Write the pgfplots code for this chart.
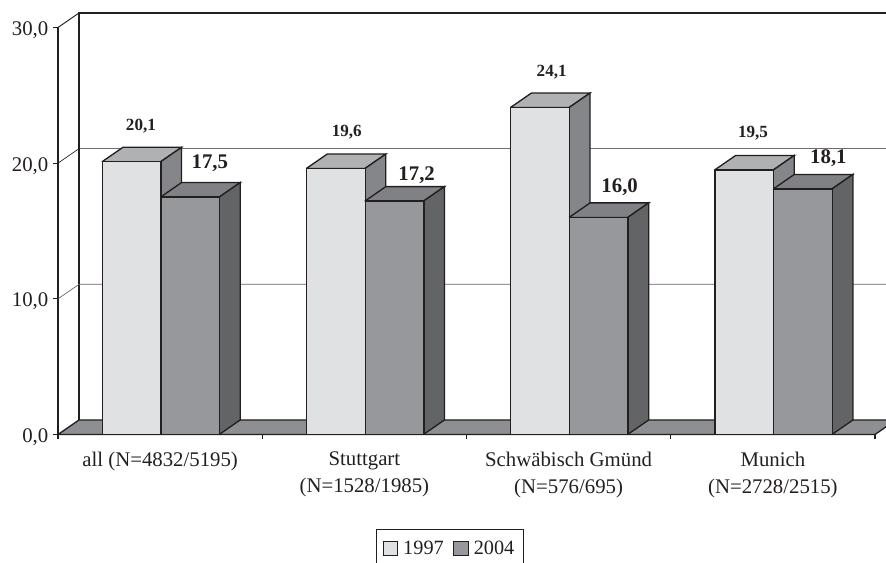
\documentclass[border=0pt]{standalone}
\usepackage{fontspec}
\setmainfont{Liberation Serif}
\usepackage{pgfplots}
\pgfplotsset{compat=1.18}
\definecolor{ink}{HTML}{231F20}
\definecolor{frontA}{HTML}{E0E1E3}
\definecolor{topA}{HTML}{B0B1B3}
\definecolor{sideA}{HTML}{858689}
\definecolor{frontB}{HTML}{97989C}
\definecolor{topB}{HTML}{808184}
\definecolor{sideB}{HTML}{636466}
\definecolor{floor}{HTML}{8E8F92}
% depth of the 3d effect, in axis units
\def\dx{0.1027}
\def\dy{1.07}
\def\bw{0.287}
% top and side faces of one bar: left edge, value, top colour, side colour
\newcommand{\barfaces}[4]{%
  \addplot[forget plot,fill=#3,draw=ink,line width=1pt] coordinates {(#1,#2) (#1+\bw,#2) (#1+\bw+\dx,#2+\dy) (#1+\dx,#2+\dy) (#1,#2)};
  \addplot[forget plot,fill=#4,draw=ink,line width=1pt] coordinates {(#1+\bw,0) (#1+\bw+\dx,\dy) (#1+\bw+\dx,#2+\dy) (#1+\bw,#2) (#1+\bw,0)};
}
\begin{document}
\begin{tikzpicture}
\clip[use as bounding box] (0,0) rectangle (664.5pt,422.25pt);
\begin{axis}[
  at={(43.5pt,96.375pt)},
  anchor=south west,
  scale only axis,
  width=612.75pt,
  height=305.25pt,
  xmin=0,xmax=4,ymin=0,ymax=30,
  clip=false,
  axis x line=bottom,
  axis y line=left,
  axis line style={-,ink,line width=1pt},
  tick align=outside,
  major tick length=3.75pt,
  minor tick length=3.75pt,
  tick style={ink,line width=0.8pt},
  major x tick style={draw=none},
  xtick={0.5,1.5,2.5,3.5},
  minor xtick={0,1,2,3,4},
  xticklabels={all (N=4832/5195),{Stuttgart\\(N=1528/1985)},{Schwäbisch Gmünd\\(N=576/695)},{Munich\\(N=2728/2515)}},
  xticklabel style={align=center,text=ink,font=\fontsize{15.6}{20}\selectfont,yshift=-6pt},
  ytick={0,10,20,30},
  yticklabel style={text=ink,font=\fontsize{15.6}{18}\selectfont,yshift=-2pt},
  /pgf/number format/assume math mode=true,
  /pgf/number format/.cd,fixed,fixed zerofill,precision=1,use comma,
  /pgfplots/.cd,
  legend columns=2,
  legend style={at={(0.3892,-0.2322)},anchor=north west,draw=ink,line width=0.8pt,
    font=\fontsize{15.2}{18}\selectfont,text=ink,inner xsep=4.5pt,inner ysep=6.5pt,
    /tikz/column 1/.style={column sep=1.85pt},
    /tikz/column 2/.style={column sep=5pt},
    /tikz/column 3/.style={column sep=1.85pt}},
  legend image code/.code={\draw[#1,line width=0.8pt] (0pt,-5.4pt) rectangle (10.9pt,5.4pt);},
]
% back wall and floor
\addplot[forget plot,fill=floor,draw=ink,line width=1pt] coordinates {(0,0) (\dx,\dy) (4+\dx,\dy) (4,0) (0,0)};
\addplot[forget plot,ink,line width=0.8pt] coordinates {(\dx,\dy) (\dx,30+\dy) (4.2,30+\dy)};
\addplot[forget plot,ink,line width=0.7pt] coordinates {(0,30) (\dx,30+\dy)};
\addplot[forget plot,ink,line width=0.5pt] coordinates {(0,20) (\dx,20+\dy) (4.2,20+\dy)};
\addplot[forget plot,ink!70,line width=0.5pt] coordinates {(0,10) (\dx,10+\dy) (4.2,10+\dy)};
% 1997
\barfaces{0.2152}{20.1}{topA}{sideA}
\barfaces{1.2152}{19.6}{topA}{sideA}
\barfaces{2.2152}{24.1}{topA}{sideA}
\barfaces{3.2152}{19.5}{topA}{sideA}
\addplot[ybar,bar width=44pt,bar shift=-21.4pt,fill=frontA,draw=ink,line width=1pt] coordinates {(0.5,20.1) (1.5,19.6) (2.5,24.1) (3.5,19.5)};
\addlegendentry{1997}
% 2004
\barfaces{0.5022}{17.5}{topB}{sideB}
\barfaces{1.5022}{17.2}{topB}{sideB}
\barfaces{2.5022}{16.0}{topB}{sideB}
\barfaces{3.5022}{18.1}{topB}{sideB}
\addplot[ybar,bar width=44pt,bar shift=22.6pt,fill=frontB,draw=ink,line width=1pt] coordinates {(0.5,17.5) (1.5,17.2) (2.5,16.0) (3.5,18.1)};
\addlegendentry{2004}
% value labels
\begin{scope}[every node/.style={text=ink,font=\bfseries\fontsize{12.8}{14}\selectfont}]
\node at (axis cs:0.406,22.74) {20,1};
\node at (axis cs:1.414,22.3) {19,6};
\node at (axis cs:2.417,26.72) {24,1};
\node at (axis cs:3.403,22.22) {19,5};
\end{scope}
\begin{scope}[every node/.style={text=ink,font=\bfseries\fontsize{15.6}{17}\selectfont}]
\node at (axis cs:0.7436,20.01) {17,5};
\node at (axis cs:1.756,19.13) {17,2};
\node at (axis cs:2.75,18.24) {16,0};
\node at (axis cs:3.772,20.4) {18,1};
\end{scope}
\end{axis}
\end{tikzpicture}
\end{document}
